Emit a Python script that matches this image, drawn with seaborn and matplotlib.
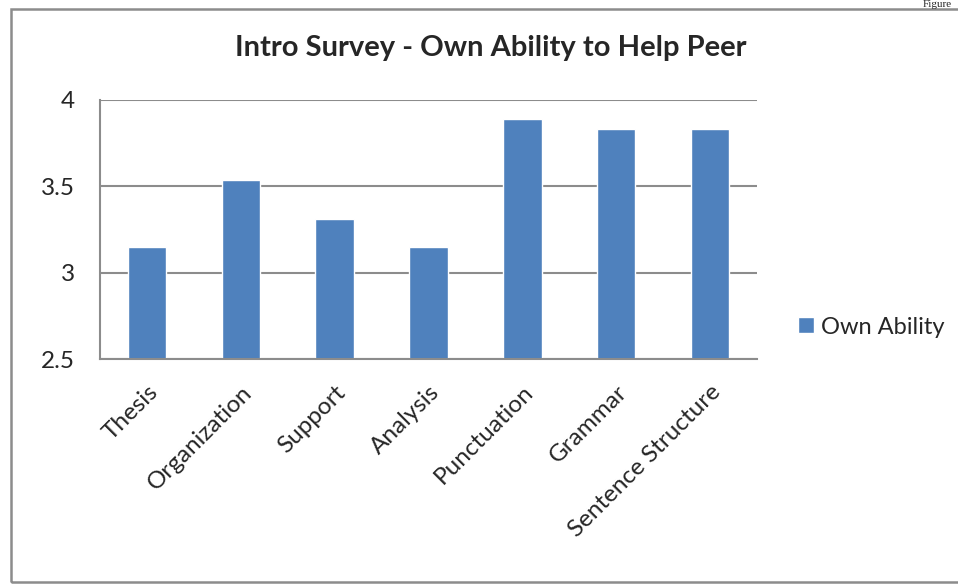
import pandas as pd
import seaborn as sb
from matplotlib import pyplot as plt
from matplotlib.patches import Rectangle

categories = ['Thesis', 'Organization', 'Support', 'Analysis',
              'Punctuation', 'Grammar', 'Sentence Structure']
ownAbility = [3.15, 3.54, 3.31, 3.15, 3.89, 3.83, 3.83]
seriesName = 'Own Ability'
yTicks = [2.5, 3, 3.5, 4]
yTickLabels = ['2.5', '3', '3.5', '4']

data = pd.DataFrame({'Category': categories, 'Score': ownAbility})

sb.set_style('white')
plt.rcParams['font.family'] = ['Lato', 'DejaVu Sans']

fig = plt.figure(figsize=(9.58, 5.84), dpi=100)
ax = fig.add_axes([100 / 958, 1 - 359.3 / 584, 657 / 958, 259.3 / 584])

sb.barplot(data=data, x='Category', y='Score', color='#4F81BD', width=0.41,
           saturation=1, ax=ax, label=seriesName)

ax.set_ylim(2.5, 4)
ax.set_xlim(-0.5, len(categories) - 0.5)
ax.set_yticks(yTicks)
ax.set_yticklabels(yTickLabels, fontsize=17.5)
ax.yaxis.grid(True, color='#8c8c8c', linewidth=1.5)
ax.set_axisbelow(True)
ax.set_xlabel('')
ax.set_ylabel('')

ax.set_xticks(range(len(categories)))
ax.set_xticklabels(categories, rotation=45, ha='right', rotation_mode='anchor', fontsize=17.5)
ax.set_xticks([i - 0.5 for i in range(len(categories) + 1)], minor=True)
ax.tick_params(axis='x', which='major', length=0, pad=16)
ax.tick_params(axis='x', which='minor', length=8, width=1.5, color='#8c8c8c', direction='out')
ax.tick_params(axis='y', length=8, width=1.5, color='#8c8c8c', direction='out', pad=10)

for side in ['top', 'right']:
    ax.spines[side].set_visible(False)
for side in ['left', 'bottom']:
    ax.spines[side].set_color('#8c8c8c')
    ax.spines[side].set_linewidth(1.5)

if ax.legend_:
    ax.legend_.remove()
handles, labels = ax.get_legend_handles_labels()
fig.legend(handles[:1], [seriesName], loc='center left', bbox_to_anchor=(777 / 958, 1 - 327 / 584),
           frameon=False, fontsize=17, handlelength=0.65, handleheight=0.65, handletextpad=0.3)

fig.text(491 / 958, 1 - 48 / 584, 'Intro Survey - Own Ability to Help Peer',
         ha='center', va='center', fontsize=21, fontweight='bold')

# outer chart border
fig.patches.append(Rectangle((11 / 958, 1 - 582 / 584), 1.0, 573 / 584, transform=fig.transFigure,
                             fill=False, edgecolor='#8c8c8c', linewidth=1.8))
fig.text(952 / 958, 1.0, 'Figure', ha='right', va='top', fontsize=8, family='Liberation Serif')

fig.savefig('out.png', dpi=100)
